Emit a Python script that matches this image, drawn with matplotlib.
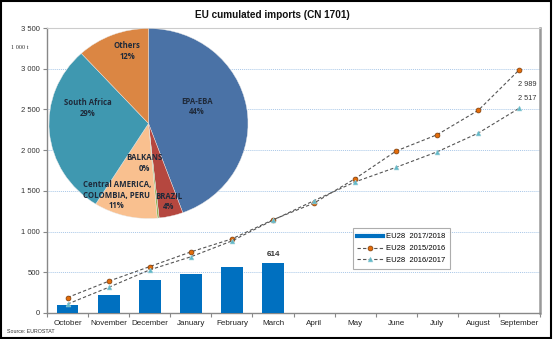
import numpy as np
import matplotlib.pyplot as plt
from matplotlib.patches import Rectangle

plt.rcParams['font.family'] = ['Liberation Sans', 'DejaVu Sans']

months = ['October', 'November', 'December', 'January', 'February', 'March',
          'April', 'May', 'June', 'July', 'August', 'September']
eu_1718 = [95, 225, 400, 485, 560, 614]  # bars, campaign so far
eu_1516 = [190, 390, 570, 750, 910, 1145, 1350, 1650, 1990, 2190, 2490, 2989]
eu_1617 = [110, 315, 530, 690, 885, 1140, 1380, 1610, 1790, 1980, 2210, 2517]
yticks = [0, 500, 1000, 1500, 2000, 2500, 3000, 3500]
ytick_labels = ['0', '500', '1 000', '1 500', '2 000', '2 500', '3 000', '3 500']

pie_labels = ['EPA-EBA\n44%', 'BRAZIL\n4%', 'BALKANS\n0%',
              'Central AMERICA,\nCOLOMBIA, PERU\n11%', 'South Africa\n29%', 'Others\n12%']
pie_shares = [44.4, 3.9, 0.3, 10.3, 29.3, 11.8]
pie_colors = ['#4A72A6', '#B5473F', '#93B557', '#F9C08F', '#3F98B0', '#DB8643']

fig = plt.figure(figsize=(5.53, 3.39), dpi=100)
ax = fig.add_axes([0.085, 0.0767, 0.8915, 0.8407])

x = np.arange(len(months))
bars = ax.bar(x[:len(eu_1718)], eu_1718, width=0.53, color='#0070C0', zorder=3,
              label='EU28  2017/2018')
l1, = ax.plot(x, eu_1516, ls=(0, (3, 2)), color='#555555', lw=0.8, marker='o', ms=3.5,
              mfc='#E36C0A', mec='#7A3A08', mew=0.5, zorder=4, label='EU28  2015/2016')
l2, = ax.plot(x, eu_1617, ls=(0, (3, 2)), color='#555555', lw=0.8, marker='^', ms=3.5,
              mfc='#5FB8C8', mec='#9CCFD8', mew=0.4, zorder=4, label='EU28  2016/2017')

ax.set_xlim(-0.5, len(months) - 0.5)
ax.set_ylim(0, 3500)
ax.set_yticks(yticks)
ax.set_yticklabels(ytick_labels, fontsize=5.5, color='#333333')
ax.set_xticks(x)
ax.set_xticklabels(months, fontsize=5.8, color='#222222')
ax.set_xticks(np.arange(len(months) + 1) - 0.5, minor=True)
ax.tick_params(axis='x', which='major', length=0, pad=5)
ax.tick_params(axis='x', which='minor', length=3, color='#888888', width=0.8)
ax.tick_params(axis='y', length=3, color='#888888', width=0.8, pad=2)
for y in yticks[1:-1]:
    ax.axhline(y, color='#A9C8E8', lw=0.7, ls=(0, (1, 1)), zorder=1)
for s in ['left', 'bottom']:
    ax.spines[s].set_color('#888888')
    ax.spines[s].set_linewidth(1.0)
ax.spines['top'].set_color('#CCCCCC')
ax.spines['top'].set_linewidth(0.8)
ax.spines['right'].set_color('#999999')
ax.spines['right'].set_linewidth(1.8)

ax.text(x[len(eu_1718) - 1], eu_1718[-1] + 60, str(eu_1718[-1]), ha='center',
        va='bottom', fontsize=5.8, fontweight='bold', color='#333333')
ax.annotate('2 989', (x[-1], eu_1516[-1]), xytext=(5.5, -12), textcoords='offset points',
            ha='center', fontsize=5.3, color='#333333')
ax.annotate('2 517', (x[-1], eu_1617[-1]), xytext=(5.5, 6), textcoords='offset points',
            ha='center', fontsize=5.3, color='#333333')

bar_handle = plt.Line2D([], [], color='#0070C0', lw=3)
leg = ax.legend([bar_handle, l1, l2], ['EU28  2017/2018', 'EU28  2015/2016', 'EU28  2016/2017'],
                loc='lower left', bbox_to_anchor=(0.617, 0.15), fontsize=5.5,
                frameon=True, fancybox=False, handlelength=3.4, borderpad=0.6,
                labelspacing=0.6, handletextpad=0.4, borderaxespad=0.2)
leg.get_frame().set_edgecolor('#999999')
leg.get_frame().set_linewidth(0.8)
leg.set_zorder(5)

# pie inset
pax = fig.add_axes([0.0886, 0.3555, 0.3599, 0.5605])
wedges, _ = pax.pie(pie_shares, colors=pie_colors, startangle=90, counterclock=False,
                    wedgeprops=dict(linewidth=0.3, edgecolor='#E8E8E8'))
pax.set_aspect('auto')
pax.set_xlim(-1, 1)
pax.set_ylim(-1, 1)
label_pos = [(0.487, 0.174), (0.206, -0.826), (-0.045, -0.416),
             (-0.317, -0.753), (-0.608, 0.163), (-0.216, 0.763)]
for lab, (lx, ly) in zip(pie_labels, label_pos):
    pax.text(lx, ly, lab, ha='center', va='center', fontsize=5.6, fontweight='bold',
             color='#1F2A3A', family=['Open Sans', 'DejaVu Sans'], linespacing=1.15)

fig.text(0.492, 0.955, 'EU cumulated imports (CN 1701)', ha='center', va='center',
         fontsize=7.2, fontweight='bold', color='#111111')
fig.text(0.036, 0.86, '1 000 t', ha='center', va='center', fontsize=4.5,
         family=['Liberation Serif'], color='#333333')
fig.text(0.012, 0.022, 'Source: EUROSTAT', ha='left', va='center', fontsize=3.8,
         color='#333333')
fig.patches.append(Rectangle((0.002, 0.003), 0.995, 0.993, transform=fig.transFigure,
                             fill=False, edgecolor='black', lw=1.5))

fig.savefig('out.png', dpi=100)
